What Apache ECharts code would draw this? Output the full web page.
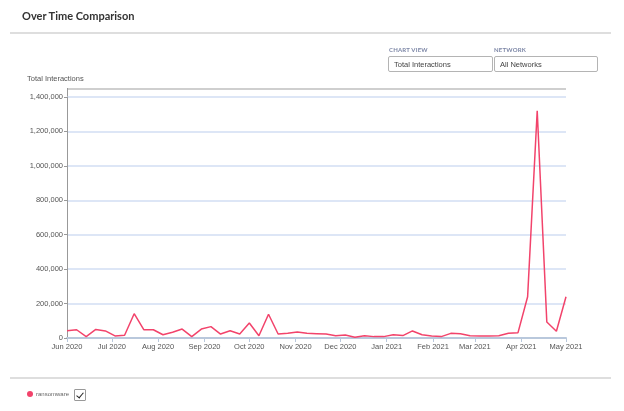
<!DOCTYPE html>
<html>
<head>
<meta charset="utf-8">
<script src="https://cdn.jsdelivr.net/npm/echarts@6/dist/echarts.min.js"></script>
<style>
  html, body { margin: 0; padding: 0; background: #fff; }
  body { width: 624px; height: 411px; position: relative; overflow: hidden; font-family: "Liberation Sans", Arial, sans-serif; }
  #title { position: absolute; left: 22px; top: 9px; font: bold 11px Lato, "Liberation Sans", sans-serif; color: #333; }
  .rule { position: absolute; left: 10px; width: 601px; height: 2px; background: #dedede; }
  .pickLabel { position: absolute; top: 46px; font: bold 6px Lato, "Liberation Sans", sans-serif; color: #7c86a6; letter-spacing: 0.2px; }
  .pick { position: absolute; top: 56px; height: 16px; border: 1px solid #b4b4b4; border-radius: 2px; box-sizing: border-box;
          font-size: 7.5px; color: #444; line-height: 15px; padding-left: 5px; }
  #chart { position: absolute; left: 0; top: 0; width: 624px; height: 411px; }
  #check { position: absolute; left: 74px; top: 389px; width: 12px; height: 12px; border: 1px solid #999; border-radius: 1px; box-sizing: border-box; }
  #check:after { content: ''; position: absolute; left: 3px; top: 1px; width: 3px; height: 6px;
                 border: solid #222; border-width: 0 1.5px 1.5px 0; transform: rotate(40deg); }
</style>
</head>
<body>
<div id="chart"></div>
<div id="title">Over Time Comparison</div>
<div class="rule" style="top:32px"></div>
<div class="pickLabel" style="left:389px">CHART VIEW</div>
<div class="pickLabel" style="left:494px">NETWORK</div>
<div class="pick" style="left:388px;width:105px">Total Interactions</div>
<div class="pick" style="left:494px;width:104px">All Networks</div>
<div class="rule" style="top:377px"></div>
<div id="check"></div>
<script>
// series name and values (weekly-ish buckets, Jun 2020 - May 2021)
var seriesName = 'ransomware';
var startDate = new Date(2020, 5, 1).getTime();
var endDate = new Date(2021, 4, 1).getTime();
var values = [
    42000, 48000, 8000, 50000, 41000, 12000, 16000, 141000, 48000, 48000, 19000, 33000, 52000, 8000, 52000, 66000, 23000, 42000,
    23000, 87000, 13000, 138000, 23000, 27000, 35000, 27000, 25000, 23000, 13000, 17000, 4000, 13000, 8000, 8000, 19000, 14000,
    41000, 19000, 12000, 8000, 27000, 25000, 13000, 12000, 12000, 13000, 27000, 31000, 240000, 1320000, 93000, 39000, 240000
];
var monthNames = ['Jan', 'Feb', 'Mar', 'Apr', 'May', 'Jun', 'Jul', 'Aug', 'Sep', 'Oct', 'Nov', 'Dec'];

// points are spread evenly across the date range
var step = (endDate - startDate) / (values.length - 1);
var points = [];
for (var i = 0; i < values.length; i++) {
    points.push([startDate + i * step, values[i]]);
}

var myChart = echarts.init(document.getElementById('chart'));
var option = {
    animation: false,
    grid: { left: 67, right: 58, top: 97, bottom: 73 },
    legend: {
        left: 27, top: 391, padding: 0,
        itemWidth: 6, itemHeight: 6, itemGap: 4,
        icon: 'circle',
        textStyle: { fontSize: 6, color: '#666', fontFamily: 'Liberation Sans', padding: [0, 0, 0, -2] },
        data: [seriesName]
    },
    graphic: [
        { type: 'rect', shape: { x: 67, y: 88, width: 499, height: 2 }, style: { fill: '#cfcfcf' } },
        { type: 'line', shape: { x1: 67.5, y1: 88, x2: 67.5, y2: 97 }, style: { stroke: '#999', lineWidth: 1 } }
    ],
    xAxis: {
        type: 'time',
        min: startDate,
        max: endDate,
        splitNumber: 11,
        axisLine: { lineStyle: { color: '#b9c8dc', width: 2 } },
        axisTick: { show: true, length: 4, lineStyle: { color: '#b9c8dc' } },
        splitLine: { show: false },
        axisLabel: {
            fontSize: 7.5, color: '#555', fontFamily: 'Liberation Sans', margin: 5,
            hideOverlap: false,
            formatter: function (v) {
                var d = new Date(v);
                return monthNames[d.getMonth()] + ' ' + d.getFullYear();
            }
        }
    },
    yAxis: {
        type: 'value',
        min: 0, max: 1400000, interval: 200000,
        name: 'Total Interactions',
        nameLocation: 'end',
        nameGap: 14,
        nameTextStyle: { fontSize: 7.5, color: '#555', fontFamily: 'Liberation Sans', align: 'left', padding: [0, 0, 0, -40] },
        axisLine: { show: true, lineStyle: { color: '#999', width: 1 } },
        axisTick: { show: true, length: 3, lineStyle: { color: '#999' } },
        splitLine: { lineStyle: { color: '#d2def3', width: 1.5 } },
        axisLabel: {
            fontSize: 7.5, color: '#555', fontFamily: 'Liberation Sans', margin: 4,
            formatter: function (v) { return v.toLocaleString('en-US'); }
        }
    },
    series: [{
        name: seriesName,
        type: 'line',
        data: points,
        showSymbol: false,
        symbol: 'circle',
        itemStyle: { color: '#f2436b' },
        lineStyle: { color: '#f2436b', width: 1.5 }
    }]
};
myChart.setOption(option);
</script>
</body>
</html>
